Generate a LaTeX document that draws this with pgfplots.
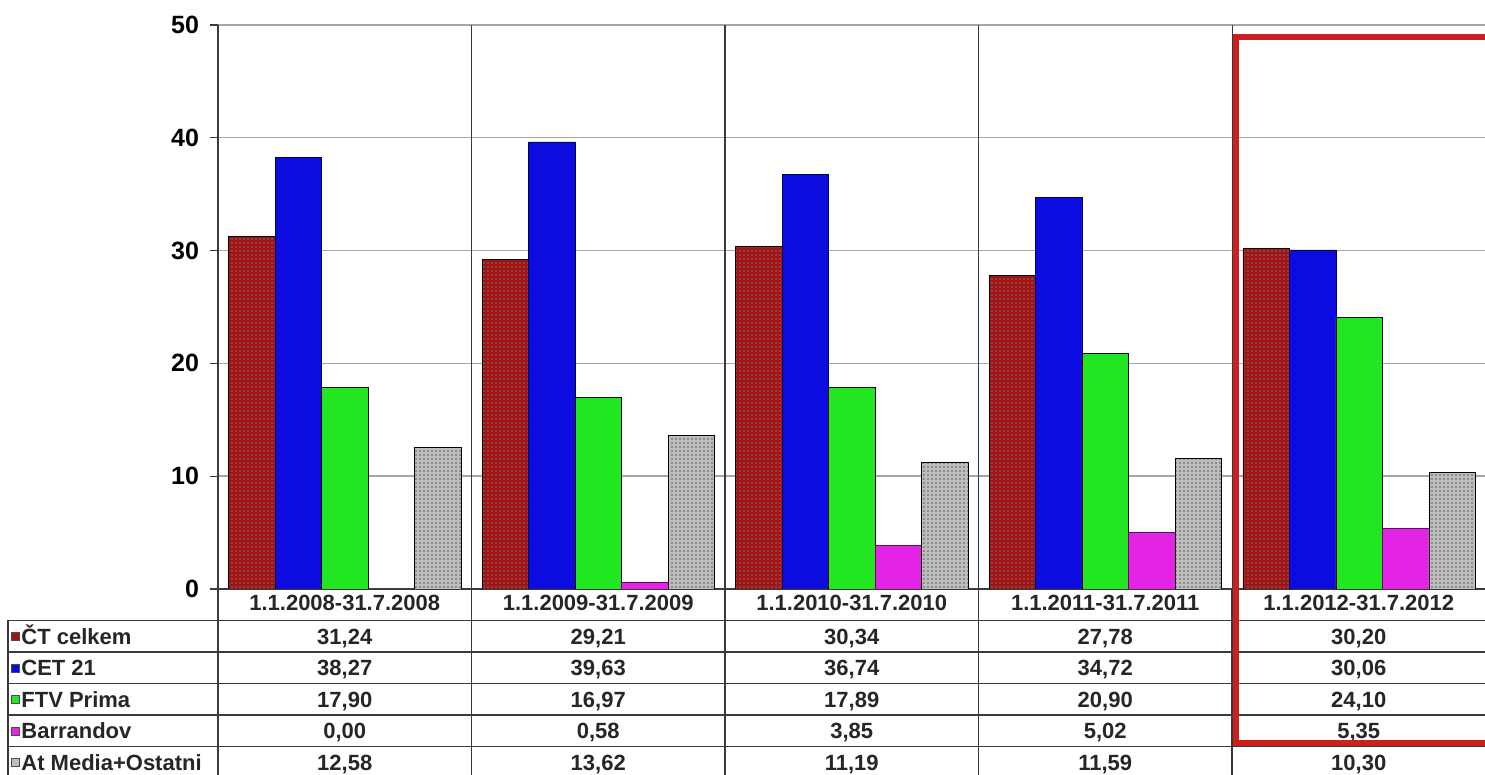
\documentclass[border=0pt]{standalone}
\usepackage{pgfplots}
\usepackage{pgfplotstable}
\pgfplotsset{compat=1.18}
\usepackage{fontspec}
\setmainfont{Liberation Sans}
\usetikzlibrary{patterns.meta}

\definecolor{ctred}{HTML}{A51414}
\definecolor{cetblue}{HTML}{0C0CE0}
\definecolor{ftvgreen}{HTML}{22E622}
\definecolor{barmag}{HTML}{E424E4}
\definecolor{atgray}{HTML}{BDBDBD}
\definecolor{framered}{HTML}{CC2020}
\definecolor{rule}{HTML}{3A3A3A}

% shares per period
\pgfplotstableread{
g ct cet ftv bar at
0 31.24 38.27 17.90 0.00 12.58
1 29.21 39.63 16.97 0.58 13.62
2 30.34 36.74 17.89 3.85 11.19
3 27.78 34.72 20.90 5.02 11.59
4 30.20 30.06 24.10 5.35 10.30
}\shares

\begin{document}
\begin{tikzpicture}
% whole picture = 1485 x 775 image pixels, axis origin at pixel (218,589)
\path[use as bounding box] (-109pt,294.5pt) rectangle (633.5pt,-93pt);

\begin{axis}[
  at={(0,0)}, anchor=south west,
  scale only axis,
  width=634pt, height=282pt,
  xmin=-0.5, xmax=4.5, ymin=0, ymax=50,
  ybar=0pt, bar width=23.25pt,
  axis x line*=bottom, axis y line*=left,
  axis line style={rule, line width=0.7pt},
  xtick=\empty,
  extra x ticks={0.5,1.5,2.5,3.5}, extra x tick labels={},
  extra x tick style={xmajorgrids, major grid style={rule, line width=0.7pt}, major tick length=0pt},
  ytick={0,10,...,50},
  ymajorgrids, major grid style={black!35, line width=0.7pt},
  tick align=outside, major tick length=4pt,
  y tick style={rule, line width=0.6pt},
  yticklabel style={font=\fontsize{12.5}{12.5}\selectfont\bfseries, xshift=-2pt},
  /pgf/number format/assume math mode=true,
]
\addplot[fill=ctred, draw=black, line width=0.4pt,
  postaction={pattern={Dots[distance=2pt, radius=0.42pt]}, pattern color=black!55}]
  table[x=g, y=ct] {\shares};
\addplot[fill=cetblue, draw=black!70!blue, line width=0.4pt] table[x=g, y=cet] {\shares};
\addplot[fill=ftvgreen, draw=black, line width=0.4pt] table[x=g, y=ftv] {\shares};
\addplot[fill=barmag, draw=black!60!barmag, line width=0.4pt] table[x=g, y=bar] {\shares};
\addplot[fill=atgray, draw=black, line width=0.4pt,
  postaction={pattern={Dots[distance=2pt, radius=0.42pt]}, pattern color=black!65}]
  table[x=g, y=at] {\shares};
\end{axis}

\begin{scope}[shift={(-109pt,294.5pt)}, x=0.5pt, y=-0.5pt,
  every node/.style={font=\fontsize{11}{11}\selectfont\bfseries, inner sep=0pt, text=black!85, anchor=base}]
  % table rules
  \foreach \yy in {620.5,652,683.5,715,746.5}
    \draw[rule, line width=0.7pt] (8,\yy) -- (1486,\yy);
  \draw[rule, line width=0.7pt] (8,620.5) -- (8,776);
  \draw[rule, line width=0.7pt] (218,589) -- (218,776);
  \foreach \xx in {471.5,725,978.5,1232}
    \draw[rule, line width=0.7pt] (\xx,589) -- (\xx,776);
  % header (baselines)
  \foreach \lab [count=\i from 0] in {1.1.2008-31.7.2008,1.1.2009-31.7.2009,1.1.2010-31.7.2010,1.1.2011-31.7.2011,1.1.2012-31.7.2012}
    \node at ({218+253.5*(\i+0.5)},610.5) {\lab};
  % legend column
  \foreach \name/\col/\r in {ČT celkem/ctred/0, CET 21/cetblue/1, FTV Prima/ftvgreen/2, Barrandov/barmag/3, At Media+Ostatni/atgray/4} {
    \filldraw[fill=\col, draw=black!70, line width=0.4pt] (11,{632.5+31.5*\r}) rectangle (19,{640.5+31.5*\r});
    \node[anchor=base west] at (21,{644.5+31.5*\r}) {\name};
  }
  % values
  \foreach \i in {0,...,4} {
    \foreach \c/\r in {ct/0,cet/1,ftv/2,bar/3,at/4} {
      \pgfplotstablegetelem{\i}{\c}\of\shares
      \node at ({218+253.5*(\i+0.5)},{644.5+31.5*\r})
        {\pgfmathprintnumber[fixed, fixed zerofill, precision=2, use comma, assume math mode=true]{\pgfplotsretval}};
    }
  }
  % highlight of the last period
  \draw[framered, line width=2.6pt] (1492,37) -- (1236,37) -- (1236,743) -- (1492,743);
\end{scope}
\end{tikzpicture}
\end{document}
